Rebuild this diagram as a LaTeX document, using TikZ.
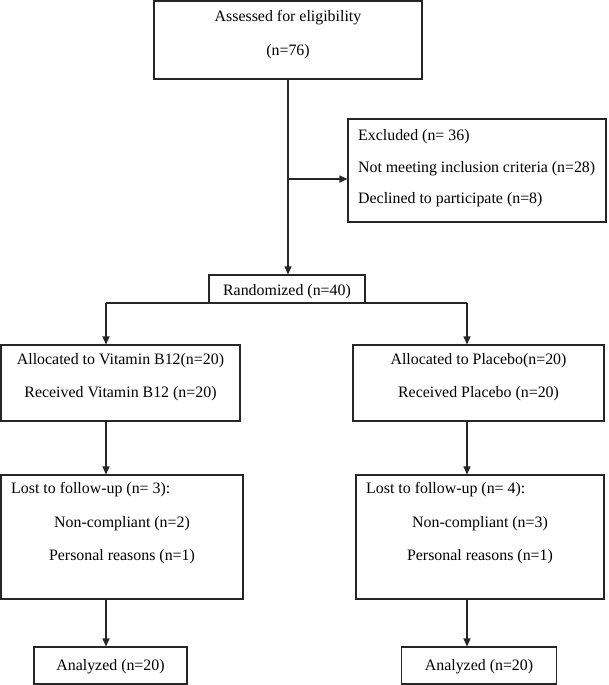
\documentclass[tikz,border=0pt]{standalone}
\usepackage{fontspec}
\setmainfont{Liberation Serif}
\usetikzlibrary{arrows.meta}
\begin{document}
\begin{tikzpicture}[x=1pt,y=-1pt,
  box/.style={draw=black!85, line width=1.1pt, inner sep=0pt, fill=white},
  txt/.style={font=\fontsize{15.9}{19}\selectfont, inner sep=0pt, anchor=base},
  ltxt/.style={txt, anchor=base west},
  conn/.style={draw=black!85, line width=1.1pt},
  arr/.style={conn, -{Triangle[length=8pt,width=7pt]}}]
\useasboundingbox (0,0) rectangle (608,685);
% boxes
\node[box, minimum width=268pt, minimum height=78pt] (top) at (288,40) {};
\node[box, minimum width=258pt, minimum height=103pt] (excl) at (477,170.5) {};
\node[box, minimum width=156pt, minimum height=28pt] (rand) at (287,289) {};
\node[box, minimum width=239pt, minimum height=76pt] (allocL) at (120.5,383) {};
\node[box, minimum width=251pt, minimum height=76pt] (allocR) at (478.5,383) {};
\node[box, minimum width=242pt, minimum height=124pt] (lostL) at (122,537) {};
\node[box, minimum width=248pt, minimum height=124pt] (lostR) at (480,537) {};
\node[box, minimum width=153pt, minimum height=37pt] (anaL) at (110.5,665.5) {};
\node[box, minimum width=155pt, minimum height=37pt] (anaR) at (479,665.5) {};
% connectors
\draw[arr] (top.south) -- (top.south |- rand.north);
\coordinate (br) at (288,179);
\draw[arr] (br) -- (br -| excl.west);
\coordinate (sl) at (106,303);
\coordinate (sr) at (467,303);
\draw[conn] (sl) -- (sr);
\draw[arr] (sl) -- (sl |- allocL.north);
\draw[arr] (sr) -- (sr |- allocR.north);
\draw[arr] (sl |- allocL.south) -- (sl |- lostL.north);
\draw[arr] (sr |- allocR.south) -- (sr |- lostR.north);
\draw[arr] (sl |- lostL.south) -- (sl |- anaL.north);
\draw[arr] (sr |- lostR.south) -- (sr |- anaR.north);
% texts
\node[txt] (t1) at (288,22) {Assessed for eligibility};
\node[txt] (t2) at (288,56) {(n=76)};
\node[ltxt] (e1) at (358,140) {Excluded (n= 36)};
\node[ltxt] (e2) at (358,172) {\makebox[237pt][s]{Not meeting inclusion criteria (n=28)}};
\node[ltxt] (e3) at (358,203) {Declined to participate (n=8)};
\node[txt] (r1) at (287,295) {Randomized (n=40)};
\node[txt] (aL1) at (120.5,364) {Allocated to Vitamin B12(n=20)};
\node[txt] (aL2) at (120.5,397) {Received Vitamin B12 (n=20)};
\node[txt] (aR1) at (478.5,364) {Allocated to Placebo(n=20)};
\node[txt] (aR2) at (478.5,397) {Received Placebo (n=20)};
\node[ltxt] (lL1) at (11,493) {Lost to follow-up (n= 3):};
\node[txt] (lL2) at (122,527) {Non-compliant (n=2)};
\node[txt] (lL3) at (122,560) {Personal reasons (n=1)};
\node[ltxt] (lR1) at (366,493) {Lost to follow-up (n= 4):};
\node[txt] (lR2) at (480,527) {Non-compliant (n=3)};
\node[txt] (lR3) at (480,560) {Personal reasons (n=1)};
\node[txt] (nL) at (110.5,670) {Analyzed (n=20)};
\node[txt] (nR) at (479,670) {Analyzed (n=20)};
\end{tikzpicture}
\end{document}
